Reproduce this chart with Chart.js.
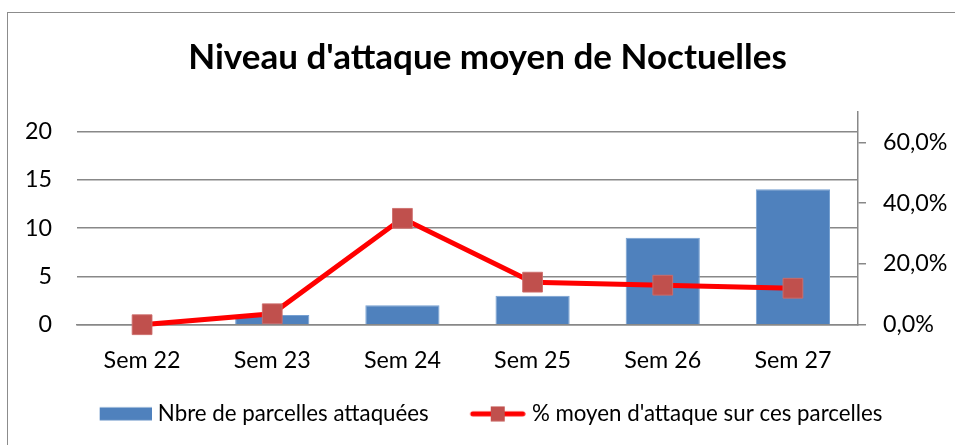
<!DOCTYPE html>
<html>
<head>
<meta charset="utf-8">
<script src="https://cdn.jsdelivr.net/npm/chart.js@4.4.1/dist/chart.umd.min.js"></script>
<style>
  html, body { margin: 0; padding: 0; background: #fff; overflow: hidden; }
  #frame { position: absolute; left: 7px; top: 12px; width: 1000px; height: 500px; border: 1px solid #8c8c8c; }
  #wrap { position: absolute; left: 0; top: 0; width: 955px; height: 445px; }
</style>
</head>
<body>
<div id="frame"></div>
<div id="wrap"><canvas id="chart" width="955" height="445"></canvas></div>
<script>
// data
const weeks = ['Sem 22', 'Sem 23', 'Sem 24', 'Sem 25', 'Sem 26', 'Sem 27'];
const parcelles = [0, 1, 2, 3, 9, 14];
const attaque = [0, 0.036, 0.35, 0.14, 0.13, 0.12];
const leftTicks = [0, 5, 10, 15, 20];
const rightTicks = [0, 0.2, 0.4, 0.6];
const labelBar = 'Nbre de parcelles attaquées';
const labelLine = "% moyen d'attaque sur ces parcelles";
const titleText = "Niveau d'attaque moyen de Noctuelles";

const FAMILY = 'Lato';
const barColor = '#4F81BD';
const lineColor = '#FF0000';
const markerColor = '#C0504D';
const gridColor = '#888888';

// pick a font size so a text gets the width it has in the reference
function fitSize(text, weight, width) {
    const c = document.createElement('canvas').getContext('2d');
    c.font = weight + ' 100px ' + FAMILY;
    return Math.round(1000 * width / c.measureText(text).width) / 10;
}

const tickSize = fitSize('Sem 22', 'normal', 77);
const legendSize = fitSize(labelBar, 'normal', 271);
const titleSize = fitSize(titleText, 'bold', 598);

// legend boxes: wide box so the second item sits further from the first text,
// visible symbol pushed to the right end of the box, close to its text
const half = legendSize / 2;
const boxW = Math.round(93 - half);
const iconW = Math.round(boxW + 2 * (half - 6));

function legendIcon(kind) {
    const c = document.createElement('canvas');
    c.width = iconW;
    c.height = 16;
    const ctx = c.getContext('2d');
    if (kind === 'bar') {
        ctx.fillStyle = barColor;
        ctx.fillRect(iconW - 52, 1.5, 52, 13);
    } else {
        ctx.strokeStyle = lineColor;
        ctx.lineWidth = 5;
        ctx.lineCap = 'round';
        ctx.beginPath();
        ctx.moveTo(iconW - 53, 8);
        ctx.lineTo(iconW - 3, 8);
        ctx.stroke();
        ctx.fillStyle = markerColor;
        ctx.fillRect(iconW - 35, 0.5, 14, 15);
    }
    return c;
}

Chart.defaults.color = '#000';
Chart.defaults.font.family = FAMILY;

const fmtPct = v => (v * 100).toFixed(1).replace('.', ',') + '%';

new Chart(document.getElementById('chart'), {
    data: {
        labels: weeks,
        datasets: [
            {
                type: 'line',
                label: labelLine,
                data: attaque,
                yAxisID: 'y2',
                borderColor: lineColor,
                borderWidth: 5,
                tension: 0,
                clip: false,
                pointStyle: 'rect',
                pointRadius: 14,
                pointBackgroundColor: markerColor,
                pointBorderColor: 'rgba(205,110,107,0.9)',
                pointBorderWidth: 1,
                order: 0
            },
            {
                type: 'bar',
                label: labelBar,
                data: parcelles,
                yAxisID: 'y',
                backgroundColor: barColor,
                borderColor: '#76A0D2',
                borderWidth: 1,
                categoryPercentage: 1,
                barPercentage: 0.57,
                order: 1
            }
        ]
    },
    options: {
        responsive: false,
        animation: false,
        layout: { padding: { left: 20, right: 0, top: 0, bottom: 10 } },
        plugins: {
            tooltip: { enabled: false },
            title: {
                display: true,
                text: titleText,
                color: '#000',
                font: { size: titleSize, weight: 'bold', lineHeight: 1.2 },
                padding: { top: 37, bottom: 33 }
            },
            legend: {
                position: 'bottom',
                labels: {
                    usePointStyle: true,
                    pointStyleWidth: boxW,
                    padding: 10,
                    color: '#000',
                    font: { size: legendSize },
                    generateLabels: () => [
                        { text: labelBar, pointStyle: legendIcon('bar'), lineWidth: 0, strokeStyle: 'transparent', fillStyle: barColor, datasetIndex: 1 },
                        { text: labelLine + '\u2003\u2002', pointStyle: legendIcon('line'), lineWidth: 0, strokeStyle: 'transparent', fillStyle: markerColor, datasetIndex: 0 }
                    ]
                }
            }
        },
        scales: {
            x: {
                grid: { display: true, drawOnChartArea: false, drawTicks: false },
                border: { display: true, color: gridColor, width: 1.5 },
                ticks: { padding: 22, font: { size: tickSize } },
                afterFit: s => { s.height = 68; }
            },
            y: {
                position: 'left',
                min: 0,
                max: 22,
                afterBuildTicks: s => { s.ticks = leftTicks.map(v => ({ value: v })); },
                grid: { color: gridColor, lineWidth: 1.5, drawTicks: false },
                border: { display: false },
                ticks: { padding: 25, font: { size: tickSize } },
                afterFit: s => { s.width = 57; }
            },
            y2: {
                position: 'right',
                min: 0,
                max: 0.7,
                afterBuildTicks: s => { s.ticks = rightTicks.map(v => ({ value: v })); },
                grid: { drawOnChartArea: false, drawTicks: true, tickLength: 8, color: gridColor, lineWidth: 1.5 },
                border: { display: true, color: gridColor, width: 1.5 },
                ticks: { padding: 17, font: { size: tickSize }, callback: v => fmtPct(v) },
                afterFit: s => { s.width = 97; }
            }
        }
    }
});
</script>
</body>
</html>
